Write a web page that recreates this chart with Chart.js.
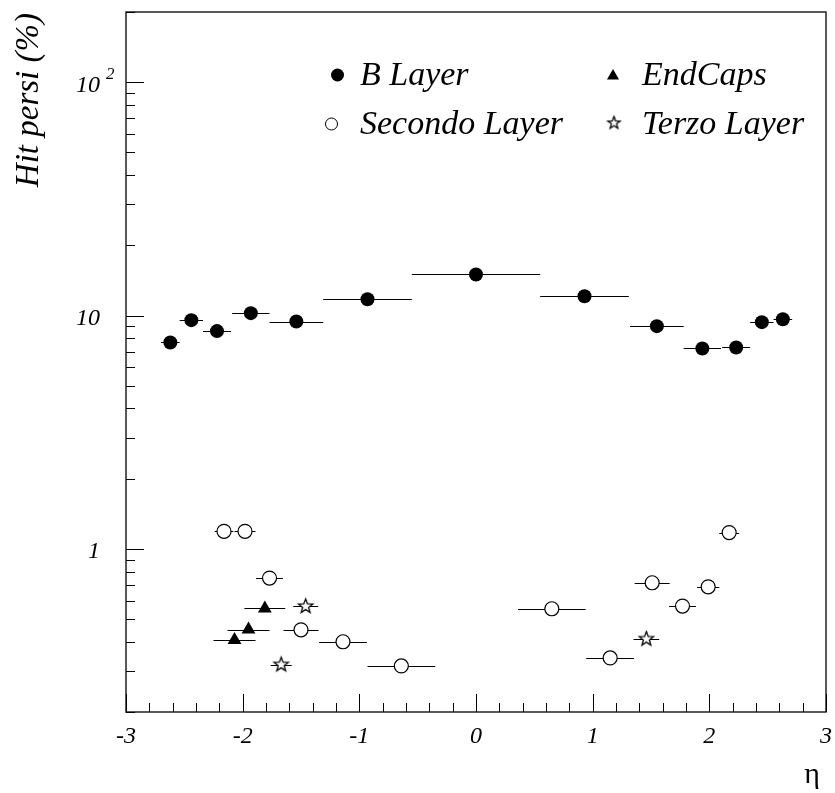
<!DOCTYPE html>
<html>
<head>
<meta charset="utf-8">
<script src="https://cdn.jsdelivr.net/npm/chart.js@4"></script>
<style>
  html, body { margin: 0; padding: 0; background: #fff; }
  #wrap { width: 835px; height: 793px; }
</style>
</head>
<body>
<div id="wrap"><canvas id="hitchart" width="835" height="793"></canvas></div>
<script>
// B Layer
const bLayerEta = [-2.62, -2.44, -2.22, -1.93, -1.54, -0.93, 0.0, 0.93, 1.55, 1.94, 2.23, 2.45, 2.63];
const bLayerVal = [7.67, 9.56, 8.58, 10.24, 9.43, 11.75, 15.0, 12.1, 9.01, 7.23, 7.30, 9.37, 9.65];
const bLayerErr = [0.08, 0.10, 0.12, 0.16, 0.23, 0.38, 0.55, 0.38, 0.23, 0.16, 0.12, 0.10, 0.08];

// Secondo Layer
const secondoEta = [-2.16, -1.98, -1.77, -1.50, -1.14, -0.64, 0.65, 1.15, 1.51, 1.77, 1.99, 2.17];
const secondoVal = [1.19, 1.19, 0.75, 0.45, 0.40, 0.315, 0.554, 0.341, 0.716, 0.569, 0.688, 1.175];
const secondoErr = [0.08, 0.09, 0.115, 0.15, 0.205, 0.29, 0.29, 0.205, 0.15, 0.115, 0.095, 0.085];

// EndCaps
const endCapsEta = [-2.07, -1.95, -1.81];
const endCapsVal = [0.407, 0.451, 0.556];
const endCapsErr = [0.18, 0.18, 0.175];

// Terzo Layer
const terzoEta = [-1.67, -1.46, 1.46];
const terzoVal = [0.319, 0.567, 0.411];
const terzoErr = [0.09, 0.107, 0.11];

const xTicks = [-3, -2, -1, 0, 1, 2, 3];

function toPoints(eta, val, err) {
    return eta.map((e, i) => ({ x: e, y: val[i], ex: err[i] }));
}

// open five point star used as marker
function makeStar(r) {
    const c = document.createElement('canvas');
    const s = Math.ceil(r * 2 + 4);
    c.width = s; c.height = s;
    const g = c.getContext('2d');
    g.beginPath();
    for (let i = 0; i < 10; i++) {
        const rad = i % 2 === 0 ? r : r * 0.42;
        const a = -Math.PI / 2 + i * Math.PI / 5;
        const px = s / 2 + rad * Math.cos(a), py = s / 2 + rad * Math.sin(a);
        if (i === 0) g.moveTo(px, py); else g.lineTo(px, py);
    }
    g.closePath();
    g.fillStyle = '#fff';
    g.fill();
    g.lineWidth = 1.3;
    g.strokeStyle = '#000';
    g.stroke();
    return c;
}
const starBig = makeStar(7.5);
const starSmall = makeStar(6.5);

const SERIF = "'Liberation Serif', 'Times New Roman', serif";

const errorBars = {
    id: 'errorBars',
    beforeDatasetsDraw(chart) {
        const {ctx, scales: {x, y}} = chart;
        ctx.save();
        ctx.strokeStyle = '#000';
        ctx.lineWidth = 1;
        chart.data.datasets.forEach(ds => {
            ds.data.forEach(p => {
                const py = Math.round(y.getPixelForValue(p.y)) + 0.5;
                ctx.beginPath();
                ctx.moveTo(x.getPixelForValue(p.x - p.ex), py);
                ctx.lineTo(x.getPixelForValue(p.x + p.ex), py);
                ctx.stroke();
            });
        });
        ctx.restore();
    }
};

const frameAndText = {
    id: 'frameAndText',
    afterDraw(chart) {
        const {ctx, chartArea: a, scales: {x, y}} = chart;
        ctx.save();
        // frame
        ctx.strokeStyle = '#222';
        ctx.lineWidth = 1.5;
        ctx.strokeRect(a.left, a.top, a.right - a.left, a.bottom - a.top);

        // x ticks, minor every 0.2
        ctx.lineWidth = 1;
        ctx.strokeStyle = '#000';
        for (let i = -15; i <= 15; i++) {
            const v = i / 5;
            const px = Math.round(x.getPixelForValue(v)) + 0.5;
            const len = i % 5 === 0 ? 18 : 9;
            ctx.beginPath();
            ctx.moveTo(px, a.bottom);
            ctx.lineTo(px, a.bottom - len);
            ctx.stroke();
        }
        // y ticks, log minor
        [0.1, 1, 10, 100].forEach(d => {
            for (let m = 1; m <= 9; m++) {
                const v = m * d;
                if (v < 0.2 || v > 200) continue;
                const py = Math.round(y.getPixelForValue(v)) + 0.5;
                const len = m === 1 ? 18 : 9;
                ctx.beginPath();
                ctx.moveTo(a.left, py);
                ctx.lineTo(a.left + len, py);
                ctx.stroke();
            }
        });

        // y labels
        ctx.fillStyle = '#000';
        ctx.font = 'italic 24px ' + SERIF;
        ctx.textAlign = 'right';
        ctx.textBaseline = 'alphabetic';
        ctx.fillText('1', 100, y.getPixelForValue(1) + 9.5);
        ctx.fillText('10', 100, y.getPixelForValue(10) + 9.5);
        ctx.fillText('10', 100, y.getPixelForValue(100) + 9.5);
        ctx.textAlign = 'left';
        ctx.font = 'italic 17px ' + SERIF;
        ctx.fillText('2', 106, y.getPixelForValue(100) - 3.5);

        // y title
        ctx.save();
        ctx.translate(38, 13);
        ctx.rotate(-Math.PI / 2);
        ctx.textAlign = 'right';
        ctx.font = 'italic 33px ' + SERIF;
        ctx.fillText('Hit persi (%)', 0, 0);
        ctx.restore();

        // x title
        ctx.font = '30px ' + SERIF;
        ctx.textAlign = 'center';
        ctx.fillText('\u03B7', 812, 783);

        // legend
        const items = [
            {label: 'B Layer', mx: 337.5, my: 75, tx: 360, ty: 85, st: {pointStyle: 'circle', radius: 6.5, borderWidth: 0}, fill: '#000'},
            {label: 'EndCaps', mx: 613, my: 76, tx: 642, ty: 85, st: {pointStyle: 'triangle', radius: 7, borderWidth: 0}, fill: '#000'},
            {label: 'Secondo Layer', mx: 331.5, my: 124, tx: 360, ty: 134, st: {pointStyle: 'circle', radius: 6, borderWidth: 1}, fill: '#fff'},
            {label: 'Terzo Layer', mx: 614, my: 123, tx: 642, ty: 134, st: {pointStyle: starSmall, radius: 6, borderWidth: 0}, fill: '#fff'}
        ];
        ctx.font = 'italic 34px ' + SERIF;
        ctx.textAlign = 'left';
        items.forEach(it => {
            ctx.fillStyle = it.fill;
            ctx.strokeStyle = '#000';
            ctx.lineWidth = it.st.borderWidth || 1;
            Chart.helpers.drawPoint(ctx, {rotation: 0, ...it.st}, it.mx, it.my);
            ctx.fillStyle = '#000';
            ctx.fillText(it.label, it.tx, it.ty);
        });
        ctx.restore();
    }
};

const data = {
    datasets: [
        {
            label: 'B Layer',
            data: toPoints(bLayerEta, bLayerVal, bLayerErr),
            pointStyle: 'circle',
            pointRadius: 7,
            backgroundColor: '#000',
            borderColor: '#000',
            borderWidth: 0,
        },
        {
            label: 'Secondo Layer',
            data: toPoints(secondoEta, secondoVal, secondoErr),
            pointStyle: 'circle',
            pointRadius: 7,
            backgroundColor: '#fff',
            borderColor: '#000',
            borderWidth: 1.2,
        },
        {
            label: 'EndCaps',
            data: toPoints(endCapsEta, endCapsVal, endCapsErr),
            pointStyle: 'triangle',
            pointRadius: 8,
            backgroundColor: '#000',
            borderColor: '#000',
            borderWidth: 0,
        },
        {
            label: 'Terzo Layer',
            data: toPoints(terzoEta, terzoVal, terzoErr),
            pointStyle: starBig,
            pointRadius: 7,
            backgroundColor: '#fff',
            borderColor: '#000',
            borderWidth: 0,
        }
    ]
};

const config = {
    type: 'scatter',
    data: data,
    options: {
        responsive: false,
        animation: false,
        events: [],
        layout: { padding: { top: 12, right: 9, left: 0, bottom: 0 } },
        plugins: {
            legend: { display: false },
            tooltip: { enabled: false },
        },
        scales: {
            x: {
                type: 'linear',
                min: -3,
                max: 3,
                afterBuildTicks: s => { s.ticks = xTicks.map(v => ({ value: v })); },
                afterFit: s => { s.height = 81; s.paddingLeft = 0; s.paddingRight = 0; },
                grid: { display: false, drawTicks: false },
                border: { display: false },
                ticks: {
                    color: '#000',
                    padding: 10,
                    maxRotation: 0,
                    font: { family: SERIF, style: 'italic', size: 24 },
                    callback: v => String(v),
                },
            },
            y: {
                type: 'logarithmic',
                min: 0.2,
                max: 200,
                afterFit: s => { s.width = 126; s.paddingTop = 0; s.paddingBottom = 0; },
                grid: { display: false, drawTicks: false },
                border: { display: false },
                ticks: { display: false },
            }
        }
    },
    plugins: [errorBars, frameAndText],
};

const ctx = document.getElementById('hitchart').getContext('2d');
new Chart(ctx, config);
</script>
</body>
</html>
